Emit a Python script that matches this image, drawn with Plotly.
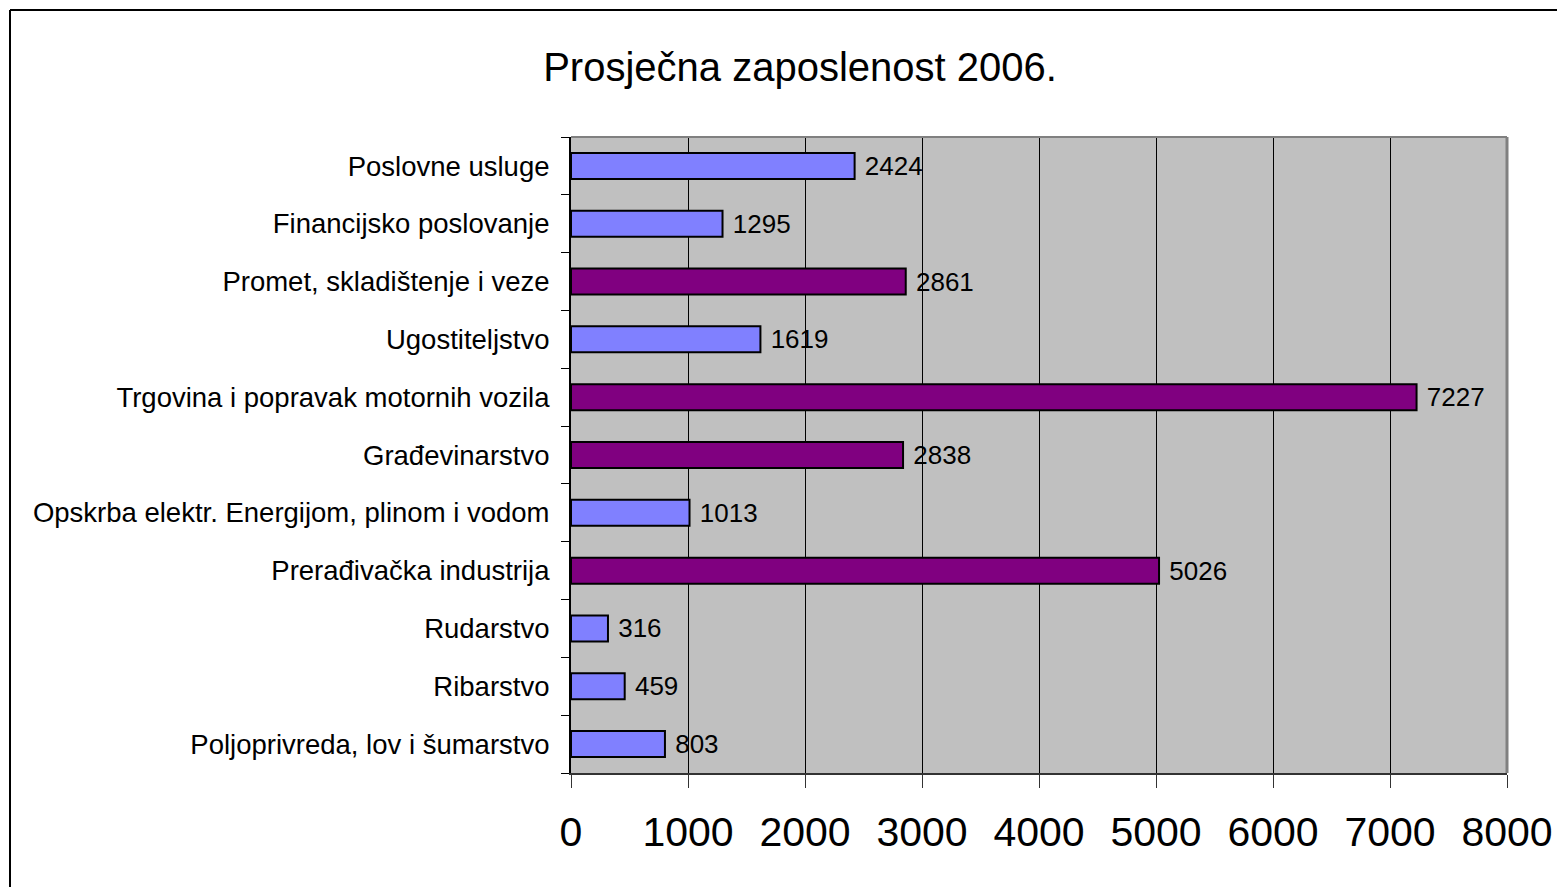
import plotly.graph_objects as go

categories = [
    "Poljoprivreda, lov i šumarstvo",
    "Ribarstvo",
    "Rudarstvo",
    "Prerađivačka industrija",
    "Opskrba elektr. Energijom, plinom i vodom",
    "Građevinarstvo",
    "Trgovina i popravak motornih vozila",
    "Ugostiteljstvo",
    "Promet, skladištenje i veze",
    "Financijsko poslovanje",
    "Poslovne usluge",
]
values = [803, 459, 316, 5026, 1013, 2838, 7227, 1619, 2861, 1295, 2424]
highlight = [False, False, False, True, False, True, True, False, True, False, False]
x_ticks = [0, 1000, 2000, 3000, 4000, 5000, 6000, 7000, 8000]
title_text = "Prosječna zaposlenost 2006."

BLUE = "#8080FF"
PURPLE = "#800080"
colors = [PURPLE if h else BLUE for h in highlight]

OFF = 8  # page body margin
W, H = 1565 - OFF, 887 - OFF
L, R, T, B = 571 - OFF, 58, 137 - OFF, 114

fig = go.Figure()
fig.add_trace(go.Bar(
    y=categories, x=values, orientation="h",
    marker=dict(color=colors, line=dict(color="black", width=2)),
    text=[f" {v}" for v in values],
    textposition="outside",
    constraintext="none",
    textfont=dict(family="Liberation Sans, Arial", size=26, color="black"),
    cliponaxis=False,
    width=0.45,
))

pw = W - L - R
ph = H - T - B
def px_x(p):
    return (p - OFF - L) / pw
def px_y(p):
    return (H - B - (p - OFF)) / ph

shapes = [
    dict(type="line", xref="paper", yref="paper", x0=px_x(10), x1=px_x(1600), y0=px_y(10), y1=px_y(10),
         line=dict(color="black", width=2)),
    dict(type="line", xref="paper", yref="paper", x0=px_x(10), x1=px_x(10), y0=px_y(10), y1=px_y(920),
         line=dict(color="black", width=2)),
    dict(type="line", xref="paper", yref="paper", x0=0, x1=1, y0=1, y1=1,
         line=dict(color="#808080", width=2)),
    dict(type="line", xref="paper", yref="paper", x0=1, x1=1, y0=0, y1=1,
         line=dict(color="#808080", width=3)),
]

fig.update_layout(
    width=W, height=H,
    margin=dict(l=L, r=R, t=T, b=B, autoexpand=False),
    paper_bgcolor="white",
    plot_bgcolor="#C0C0C0",
    showlegend=False,
    font=dict(family="Liberation Sans, Arial", color="black"),
    title=dict(text=title_text, x=(800 - OFF) / W, xanchor="center", y=1 - (67 - OFF) / H, yanchor="middle",
               font=dict(size=40, family="Liberation Sans, Arial", color="black")),
    shapes=shapes,
    bargap=0.55,
)
fig.update_xaxes(
    range=[0, 8000], tickvals=x_ticks, ticktext=[str(v) for v in x_ticks],
    showgrid=True, gridcolor="black", gridwidth=1,
    showline=True, linecolor="#333333", linewidth=2,
    ticks="outside", ticklen=13, tickcolor="#333333", tickwidth=1,
    tickfont=dict(size=41, color="black"),
    ticklabelstandoff=9,
    zeroline=False,
    fixedrange=True,
)
fig.update_yaxes(
    type="category", categoryorder="array", categoryarray=categories,
    showline=True, linecolor="black", linewidth=2,
    ticks="outside", ticklen=8, tickcolor="black", tickwidth=1,
    tickson="boundaries",
    tickfont=dict(size=27.5, color="black"),
    ticklabelstandoff=14,
    showgrid=False,
    fixedrange=True,
)

fig.write_html("out.html")
